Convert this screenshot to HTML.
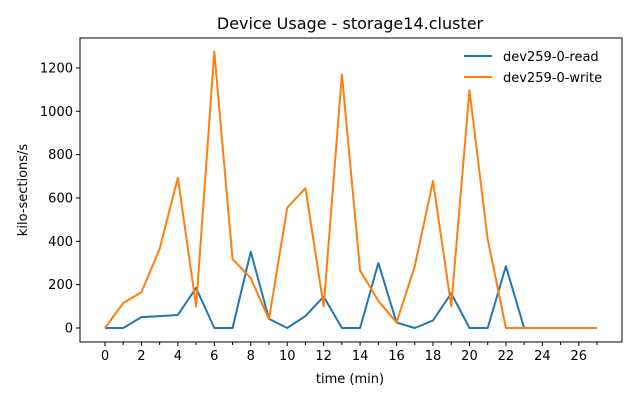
<!DOCTYPE html>
<html><head><meta charset="utf-8"><style>
body{margin:0;background:#fff;font-family:"Liberation Sans","DejaVu Sans",sans-serif;}
svg text{font-family:"DejaVu Sans","Liberation Sans",sans-serif;}
</style></head><body>
<svg id="chart" width="640" height="400" xmlns="http://www.w3.org/2000/svg">
<rect width="640" height="400" fill="#fff"/>
<text x="350" y="29" font-size="16" text-anchor="middle">Device Usage - storage14.cluster</text>
<text x="350" y="383" font-size="13" text-anchor="middle">time (min)</text>
<text x="27" y="190" font-size="13" text-anchor="middle" transform="rotate(-90 27 190)">kilo-sections/s</text>
<g id="marks"></g>
<rect x="80" y="38" width="542" height="304" fill="none" stroke="#000" stroke-width="1"/>
<g>
<line x1="464" y1="56" x2="492" y2="56" stroke="#1f77b4" stroke-width="2"/>
<text x="503" y="61" font-size="13">dev259-0-read</text>
<line x1="464" y1="77" x2="492" y2="77" stroke="#ff7f0e" stroke-width="2"/>
<text x="503" y="82" font-size="13">dev259-0-write</text>
</g>
</svg>
<script>
const times=[0,1,2,3,4,5,6,7,8,9,10,11,12,13,14,15,16,17,18,19,20,21,22,23,24,25,26,27];
const readValues=[0,0,50,55,60,185,0,0,352,42,0,55,145,0,0,300,25,0,35,160,0,0,285,0,0,0,0,0];
const writeValues=[0,115,165,365,693,100,1275,318,230,40,555,645,100,1170,265,125,25,285,678,100,1097,410,0,0,0,0,0,0];
const yTicks=[0,200,400,600,800,1000,1200];
const xTicks=[0,2,4,6,8,10,12,14,16,18,20,22,24,26];
const L=80,R=622,T=38,B=342,xMin=-1.37,xMax=28.37,yMin=-64.6,yMax=1338;
const sx=v=>L+(v-xMin)/(xMax-xMin)*(R-L);
const sy=v=>B-(v-yMin)/(yMax-yMin)*(B-T);
const NS="http://www.w3.org/2000/svg";
const g=document.getElementById('marks');
function el(t,a){const e=document.createElementNS(NS,t);for(const k in a)e.setAttribute(k,a[k]);g.appendChild(e);return e;}
for(let i=0;i<=27;i++){const t=el('line',{x1:sx(i),x2:sx(i),y1:B,y2:B+(i%2?3:4),stroke:'#000'});

}
xTicks.forEach(v=>{const t=el('text',{x:sx(v),y:B+18,'font-size':13,'text-anchor':'middle'});t.textContent=v;

});
yTicks.forEach(v=>{el('line',{x1:L-4,x2:L,y1:sy(v),y2:sy(v),stroke:'#000'});
const t=el('text',{x:L-7,y:sy(v)+4.5,'font-size':13,'text-anchor':'end'});t.textContent=v;

});
function line(vals,c,n){const p=el('polyline',{points:vals.map((v,i)=>sx(times[i])+','+sy(v)).join(' '),fill:'none',stroke:c,'stroke-width':2,'stroke-linejoin':'round'});

}
line(readValues,'#1f77b4','read-line');
line(writeValues,'#ff7f0e','write-line');
</script>
</body></html>
